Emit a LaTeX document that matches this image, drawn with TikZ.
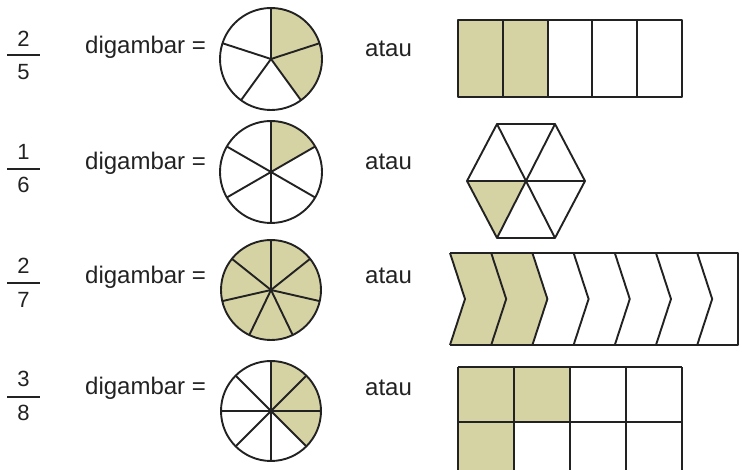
\documentclass[tikz,border=0pt]{standalone}
\usepackage{fontspec}
\setmainfont{Liberation Sans}
\usepackage{tikz}
\usetikzlibrary{calc,positioning}
\definecolor{Khaki}{HTML}{D5D2A3}
\definecolor{InkGray}{HTML}{222222}

\begin{document}
\begin{tikzpicture}[
    x=1pt, y=1pt,
    txt/.style={inner sep=0pt, text=InkGray, font=\fontsize{24}{28}\selectfont},
    num/.style={inner sep=0pt, text=InkGray, font=\fontsize{22}{26}\selectfont},
    edge/.style={draw=InkGray, line width=1.9pt, line join=round},
    part/.style={fill=Khaki}
]
\useasboundingbox (0,0) rectangle (742,470);

% fractions
\node[num] (a1) at (23.5,431) {2};
\node[num] (b1) at (23.5,398) {5};
\draw[edge, line width=1.6pt] (7,415) -- (40,415);
\node[num] (a2) at (23.5,318) {1};
\node[num] (b2) at (23.5,285) {6};
\draw[edge, line width=1.6pt] (7,301) -- (40,301);
\node[num] (a3) at (23.5,204) {2};
\node[num] (b3) at (23.5,170) {7};
\draw[edge, line width=1.6pt] (7,187) -- (40,187);
\node[num] (a4) at (23.5,91) {3};
\node[num] (b4) at (23.5,57) {8};
\draw[edge, line width=1.6pt] (7,73) -- (40,73);

% labels
\node[txt, anchor=west] (d1) at (85,423) {digambar =};
\node[txt, anchor=west] (d2) at (85,307) {digambar =};
\node[txt, anchor=west] (d3) at (85,193) {digambar =};
\node[txt, anchor=west] (d4) at (85,82) {digambar =};
\node[txt, anchor=west] (o1) at (365,421) {atau};
\node[txt, anchor=west] (o2) at (365,308) {atau};
\node[txt, anchor=west] (o3) at (365,194) {atau};
\node[txt, anchor=west] (o4) at (365,82) {atau};

% circles
\coordinate (c1) at (271,411);
\coordinate (c2) at (271,298);
\coordinate (c3) at (271,180);
\coordinate (c4) at (271,59);
\fill[part] (c1) -- ++(90:51) arc[start angle=90, end angle=-54, radius=51] -- cycle;
\foreach \k in {0,...,4}
  \draw[edge] (c1) -- ++(90-\k*72:51);
\draw[edge] (c1) circle[radius=51];
\fill[part] (c2) -- ++(90:51) arc[start angle=90, end angle=30, radius=51] -- cycle;
\foreach \k in {0,...,5}
  \draw[edge] (c2) -- ++(90-\k*60:51);
\draw[edge] (c2) circle[radius=51];
\fill[part] (c3) circle[radius=50];
\foreach \k in {0,...,6}
  \draw[edge] (c3) -- ++(90-\k*360/7:50);
\draw[edge] (c3) circle[radius=50];
\fill[part] (c4) -- ++(90:50) arc[start angle=90, end angle=-45, radius=50] -- cycle;
\foreach \k in {0,...,7}
  \draw[edge] (c4) -- ++(90-\k*45:50);
\draw[edge] (c4) circle[radius=50];

% strip of fifths
\fill[part] (458,373) rectangle (548,450);
\foreach \k in {1,...,4}
  \draw[edge] (458+\k*44.8,373) -- (458+\k*44.8,450);
\draw[edge] (458,373) rectangle (682,450);

% hexagon
\coordinate (h) at (526,289);
\fill[part] (467,289) -- (h) -- (497,232) -- cycle;
\draw[edge] (497,346) -- (555,346) -- (585,289) -- (555,232) -- (497,232) -- (467,289) -- cycle;
\draw[edge] (497,346) -- (555,232);
\draw[edge] (555,346) -- (497,232);
\draw[edge] (467,289) -- (585,289);

% chevron strip
\fill[part] (450,217) -- (533,217) -- (548,171) -- (533,125) -- (450,125) -- (465,171) -- cycle;
\foreach \k in {0,...,6}
  \draw[edge] (450+\k*41.2,217) -- (465+\k*41.2,171) -- (450+\k*41.2,125);
\draw[edge] (450,217) -- (738,217) -- (738,125) -- (450,125);

% grid of eighths
\fill[part] (458,48) rectangle (571,103);
\fill[part] (458,0) rectangle (515,48);
\foreach \k in {0,...,4}
  \draw[edge] (458+\k*56,0) -- (458+\k*56,103);
\draw[edge] (458,103) -- (682,103);
\draw[edge] (458,48) -- (682,48);
\end{tikzpicture}
\end{document}
